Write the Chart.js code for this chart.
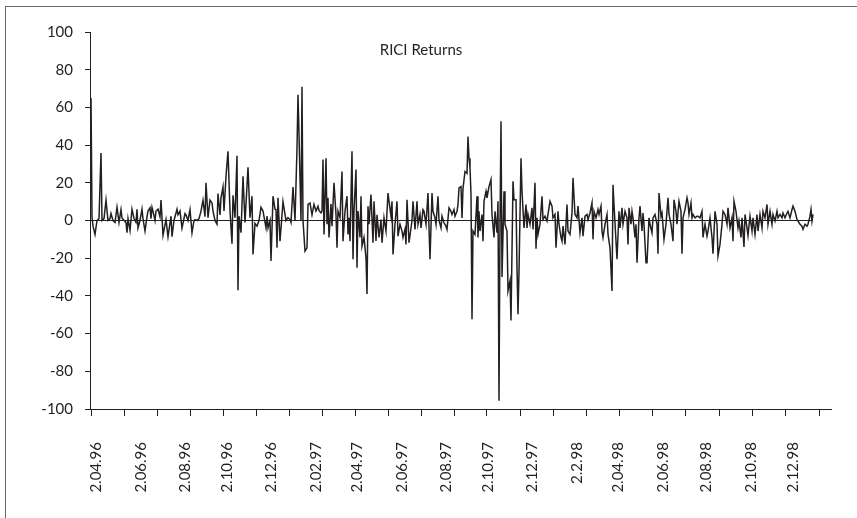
<!DOCTYPE html>
<html>
<head>
<meta charset="utf-8">
<script src="https://cdn.jsdelivr.net/npm/chart.js@4"></script>
<style>
  html, body { margin: 0; padding: 0; background: #fff; }
  #wrap { width: 857px; height: 518px; position: relative; }
</style>
</head>
<body>
<div id="wrap"><canvas id="chart"></canvas></div>
<script>
const days = [
  1, 2, 3, 5, 7, 9, 11, 12, 14, 16,
  18, 20, 21, 23, 25, 27, 29, 31, 32, 34,
  36, 37, 38, 40, 42, 44, 46, 47, 48, 50,
  52, 53, 55, 57, 58, 60, 61, 62, 63, 65,
  66, 68, 70, 71, 73, 76, 78, 81, 82, 84,
  87, 88, 90, 92, 95, 96, 98, 100, 102, 104,
  105, 107, 109, 111, 113, 115, 116, 118, 120, 122,
  123, 125, 127, 128, 130, 131, 133, 134, 136, 138,
  140, 142, 143, 145, 147, 148, 149, 151, 153, 155,
  158, 160, 162, 163, 165, 167, 169, 171, 173, 176,
  177, 178, 180, 181, 183, 185, 186, 187, 188, 190,
  193, 196, 198, 200, 201, 203, 205, 207, 208, 209,
  211, 212, 213, 215, 217, 218, 220, 222, 224, 226,
  228, 229, 231, 232, 233, 234, 236, 237, 238, 239,
  241, 242, 244, 246, 247, 248, 250, 252, 253, 255,
  257, 258, 259, 260, 262, 263, 264, 266, 267, 268,
  270, 271, 272, 274, 276, 277, 278, 279, 281, 283,
  284, 286, 287, 289, 291, 292, 294, 296, 298, 299,
  301, 302, 303, 305, 307, 308, 310, 312, 313, 315,
  316, 317, 319, 322, 323, 325, 327, 328, 330, 331,
  333, 334, 336, 338, 339, 340, 342, 343, 345, 346,
  348, 349, 351, 352, 354, 356, 357, 359, 361, 362,
  364, 365, 367, 368, 369, 371, 372, 373, 375, 377,
  378, 379, 380, 381, 382, 383, 385, 387, 388, 389,
  390, 392, 393, 394, 396, 397, 399, 401, 402, 404,
  405, 407, 408, 409, 410, 411, 412, 414, 415, 417,
  418, 420, 421, 423, 424, 426, 427, 428, 429, 431,
  432, 434, 436, 437, 438, 440, 442, 443, 445, 446,
  447, 448, 450, 452, 453, 455, 457, 458, 460, 462,
  463, 465, 466, 468, 469, 471, 472, 473, 475, 477,
  478, 480, 482, 483, 485, 487, 488, 490, 492, 493,
  495, 497, 498, 500, 502, 503, 504, 506, 508, 509,
  511, 512, 513, 515, 517, 518, 520, 522, 523, 524,
  526, 527, 529, 530, 532, 533, 535, 537, 538, 539,
  541, 542, 543, 545, 546, 547, 549, 550, 552, 553,
  554, 556, 557, 559, 560, 562, 563, 565, 567, 568,
  569, 571, 572, 574, 576, 578, 579, 581, 583, 584,
  586, 587, 589, 591, 592, 593, 595, 597, 598, 599,
  601, 602, 603, 605, 607, 608, 610, 612, 613, 615,
  617, 618, 620, 622, 623, 625, 627, 628, 630, 632,
  633, 635, 637, 638, 640, 642, 643, 644, 646, 648,
  649, 651, 652, 654, 655, 657, 658, 660, 662, 663,
  665, 667, 668, 670, 672, 673, 675, 677, 678, 680,
  682, 683, 685, 687, 688, 690, 692, 693, 695, 697,
  698, 700, 702, 703, 705, 707, 708, 710, 712, 713,
  715, 717, 718, 720, 721, 722, 723
];
const returns = [
  65, 2, -3, -7.4, 0, 1, 35.8, 0, 1, 10.8,
  0, 1, 3.7, 0, -1, 7, -1, 5.8, 1.4, 0,
  -1, -6.5, 1, -5.3, 6, 1, -1, 6, -4, 0,
  6, 1, -5.6, 2, 5, 6.7, 1, 7, 5, 0,
  5, 6, 2, 10.8, -7.8, 0.5, -8.6, 2.3, -8.6, 0,
  6, 3, 5, -4, 3.7, 3, 0, 5.8, -6.5, 0,
  0.5, 0, 1, 5, 10.8, 2, 20, 1.5, 10.8, 9.3,
  5, 0, -2, 14.3, 3, 12, 17.8, 5, 23.5, 36.7,
  5, -12.3, 13.4, 1.5, 34.4, -37, 2.3, -6.5, 23.5, -1,
  28.2, 1.5, 12.9, -18, -1.5, -3, 0, 7, 5, -3.9,
  2.3, -3.9, 0, -21.5, 12.9, 6, 5.8, -14.5, 12, -11,
  10, 0, 1.5, 0.5, -1, 17.8, 0, 38.4, 66.7, 45.5,
  0, 71, 0, -16.2, -14.5, 8.5, 9.3, 3, 8.5, 5,
  7.6, 5.3, 4, 5, 32.3, -7.4, 33, -2, 12, -9,
  8.8, -3, 20, 3, -14.5, 5, 1.5, 26, -11, 5,
  12.9, -7.4, 1.5, -11, 36.7, -20.6, 5, 27, -25, 5,
  -9, 12.9, -13.6, -9, -19.8, -39, 7.6, -2, 13.8, -11.8,
  10.2, -10.9, 3, -9, 0.5, -11.8, 1.4, -5.6, 14.6, 10.2,
  2.3, 10.2, -18, -2, 10.2, -8.3, -2, -5.6, -9, -4.7,
  -12.7, 11, -11.8, 0, 10.2, -4.7, 10.2, -2, 3.2, -3.9,
  5.8, 4.9, -2, 14.6, -3.9, -20.6, 14.6, 4.9, 1.4, -2,
  12.9, 0, -3.9, 2.3, -1.2, -3, -4.7, 6.7, 4.9, 3.2,
  5.8, 2.3, 4.9, 8.5, 17.3, 18, 1.4, 17, 26, 25,
  44.6, 33, 28, 13.8, -52.4, -5.6, -7.4, 12.9, -9, 4.9,
  -5.6, 3.2, -11, 10.2, 15.5, 12, 18, 21.7, 3.2, -9,
  4.9, -6.5, 10.2, -95.6, -2, 52.6, -30, 15.5, -2, -5.6,
  -37.4, -32, -53, 20.8, 11, 11, -25, -49.7, -27, 33,
  15.5, -3.9, 8.5, -3.9, 3.2, -2, 6.7, -4.7, 20, -15,
  1.4, -7.4, -2, 12.9, 0.5, 2.3, -0.3, 3.2, 10.2, 7.6,
  1.4, 3.2, -14.5, 4.9, -2, -9, -11, -3, -12.7, 8.5,
  -5.6, -7.4, 4, 22.6, 3.2, 1.4, 7.6, -6.5, 1.4, -8.3,
  2.3, 3.2, 0.5, 4, 9.3, -10, 4.9, 1.4, 5.8, 3.2,
  7.6, -5.6, -9, -2, 3.2, -7.4, -14.5, -37.4, 19, 8.5,
  -11, -20.6, 4.9, -3.9, 6.7, -2, 4.9, 1.4, -12.7, 6.7,
  -2, 4.9, 1.4, -9, -2, -22.4, 1.4, 7.6, -5.6, 4,
  -2, -22.4, -22.4, 1.4, -2, -6.5, 1.4, 3.2, -2, -17.6,
  14.6, 2.3, 4, -10, -2, 12, 3.2, -2, -11, 11,
  4.9, -2, 10.2, 4.9, -17.6, 1.4, 5.8, 12, 9.3, 3.2,
  9.3, 1.4, 3.2, 1.4, 2.3, 2.3, 1.4, 4.9, -9, -2,
  -8.3, -5.6, 1.4, -9, -17.6, 4.9, -2, -18.8, -12.7, -2,
  4.9, 3.2, -2, 6.7, -3.9, 1.4, -11, 10.2, 4.9, -3.9,
  -0.3, -9, 1.4, -14, 3.2, -3.9, -8, 2.3, -5.6, 1.4,
  -7.4, 3.2, -5.6, 3.2, -3.9, 4.9, 1.4, 8.5, -2, 4.9,
  -2, 3.2, -0.3, 4.9, 1.4, 3.2, 1.4, 4, 1.4, 4,
  4.9, 1.4, 5.8, 7.6, 4.9, 0.5, -0.3, -2, -3, -4.7,
  -2, -3, -2, 2.3, 5.8, -0.3, 3.2
];

// category labels (every second month) and where they sit on the day axis
const tickLabels = ['2.04.96', '2.06.96', '2.08.96', '2.10.96', '2.12.96', '2.02.97', '2.04.97', '2.06.97', '2.08.97',
  '2.10.97', '2.12.97', '2.2.98', '2.04.98', '2.06.98', '2.08.98', '2.10.98', '2.12.98'];
const labelDays = [6, 51, 95, 137, 181, 226, 267, 312, 356, 398, 442, 487, 528, 573, 616, 661, 703];
// tick marks on the category axis
const markDays = [1, 34, 67, 100, 133, 166, 199, 232, 265, 298, 331, 364, 397, 430, 463, 496, 529, 562, 595, 629, 662, 695, 729];
const totalDays = 741;

const ink = '#231f20';
const fontFamily = 'Lato, "Open Sans", sans-serif';

const points = days.map((d, i) => ({ x: d, y: returns[i] }));
const zeroLine = [{ x: days[0] - 1, y: 0 }, { x: days[days.length - 1], y: 0 }];

const decor = {
  id: 'decor',
  beforeDraw(chart) {
    const c = chart.ctx;
    c.save();
    c.fillStyle = '#fff';
    c.fillRect(0, 0, chart.width, chart.height);
    c.strokeStyle = '#6b6b6b';
    c.lineWidth = 1;
    c.strokeRect(5.5, 6.5, chart.width + 20, chart.height + 20);
    c.restore();
  },
  afterDraw(chart) {
    const c = chart.ctx;
    c.save();
    c.fillStyle = ink;
    c.font = '15px ' + fontFamily;
    c.textAlign = 'center';
    c.textBaseline = 'middle';
    c.fillText('RICI Returns', 421, chart.chartArea.top + 18);
    c.restore();
  }
};

new Chart(document.getElementById('chart'), {
  type: 'line',
  data: {
    datasets: [{
      label: 'RICI Returns',
      data: points,
      borderColor: ink,
      borderWidth: 1.5,
      pointRadius: 0,
      tension: 0
    }, {
      label: 'zero',
      data: zeroLine,
      borderColor: ink,
      borderWidth: 1,
      pointRadius: 0
    }]
  },
  options: {
    animation: false,
    responsive: true,
    maintainAspectRatio: false,
    layout: { padding: { top: 32, right: 26, left: 0, bottom: 0 } },
    plugins: {
      legend: { display: false },
      tooltip: { enabled: false }
    },
    scales: {
      x: {
        type: 'linear',
        min: 0,
        max: totalDays,
        afterBuildTicks(axis) {
          axis.ticks = markDays.map(v => ({ value: v })).concat(labelDays.map(v => ({ value: v })));
        },
        afterFit(axis) { axis.height = 109; },
        grid: {
          drawOnChartArea: false,
          tickLength: 7,
          tickColor: ctx => ctx.index < markDays.length ? ink : 'rgba(0,0,0,0)'
        },
        border: { display: true, color: ink, width: 1 },
        ticks: {
          autoSkip: false,
          minRotation: 90,
          maxRotation: 90,
          padding: 26,
          color: ink,
          font: { family: fontFamily, size: 15 },
          callback: (value, index) => index < markDays.length ? '' : tickLabels[index - markDays.length]
        }
      },
      y: {
        min: -100,
        max: 100,
        afterFit(axis) { axis.width = 90; },
        grid: { drawOnChartArea: false, tickLength: 5, tickColor: ink },
        border: { display: true, color: ink, width: 1 },
        ticks: {
          stepSize: 20,
          padding: 12,
          color: ink,
          font: { family: fontFamily, size: 15 }
        }
      }
    }
  },
  plugins: [decor]
});
</script>
</body>
</html>
